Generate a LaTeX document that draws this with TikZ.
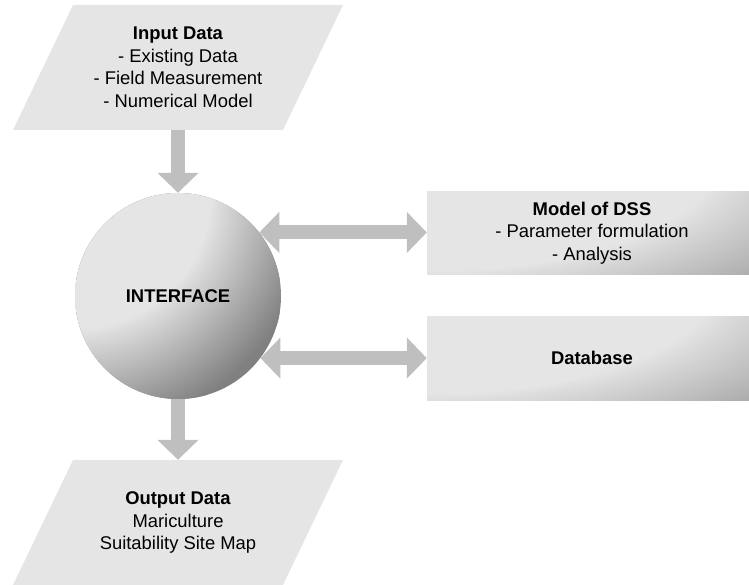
\documentclass[tikz,border=0pt]{standalone}
\usepackage{fontspec}
\setmainfont{Liberation Sans}
\usetikzlibrary{arrows.meta}
\pgfdeclareradialshading{ballshade}{\pgfpointorigin}{color(0bp)=(gray!20); color(14bp)=(gray!20); color(15bp)=(gray!28); color(25bp)=(gray!100); color(50bp)=(gray!100)}
\pgfdeclareradialshading{boxshade}{\pgfpointorigin}{color(0bp)=(gray!20); color(14bp)=(gray!20); color(15bp)=(gray!27); color(25bp)=(gray!85); color(50bp)=(gray!85)}
\tikzset{
  every node/.style={font=\fontsize{18.4pt}{22.5pt}\selectfont},
  datatext/.style={align=center, minimum width=270pt, minimum height=125pt, inner sep=0pt},
  softfill/.style n args={4}{path picture={
    \fill[gray!#4] (path picture bounding box.south west) rectangle (path picture bounding box.north east);
    \shade[shading=#1] ([yshift=#3]path picture bounding box.north west) ellipse [x radius=#2, y radius=#2*\yratio];}},
  fatarrow/.style={draw=gray!50, line width=14pt, -{Triangle[length=20pt,width=40pt]}},
  dblarrow/.style={draw=gray!50, line width=14pt, {Triangle[length=20pt,width=40pt]}-{Triangle[length=20pt,width=40pt]}},
}
\begin{document}
\begin{tikzpicture}[x=1pt,y=-1pt]
\useasboundingbox (0,0) rectangle (749,585);
% Input parallelogram
\fill[gray!20] (73,5) -- (343,5) -- (283,130) -- (13,130) -- cycle;
\node[datatext] (input) at (178,67.5) {\textbf{Input Data}\\- Existing Data\\- Field Measurement\\- Numerical Model};
% Output parallelogram
\fill[gray!20] (73,460) -- (343,460) -- (283,585) -- (13,585) -- cycle;
\node[datatext] (output) at (178,522.5) {\textbf{Output Data}\\Mariculture\\Suitability Site Map};
% Interface ball
\def\yratio{1}
\node[circle, minimum size=206pt, inner sep=0pt, softfill={ballshade}{241pt}{0pt}{100}] (iface) at (178,296) {\textbf{INTERFACE}};
% Right boxes
\def\yratio{0.385}
\node[minimum width=330pt, minimum height=82pt, align=center, softfill={boxshade}{515pt}{33pt}{85}] (dss) at (592,233)
    {\textbf{Model of DSS}\\- Parameter formulation\\- Analysis};
\node[minimum width=330pt, minimum height=84pt, align=center, softfill={boxshade}{515pt}{34pt}{85}] (db) at (592,358)
    {\textbf{Database}};
% Arrows
\draw[fatarrow] (input) -- (iface);
\draw[fatarrow] (iface) -- (output);
\draw[dblarrow] (iface.38) -- (iface.38 -| dss.west);
\draw[dblarrow] (iface.-37) -- (iface.-37 -| db.west);
\end{tikzpicture}
\end{document}
